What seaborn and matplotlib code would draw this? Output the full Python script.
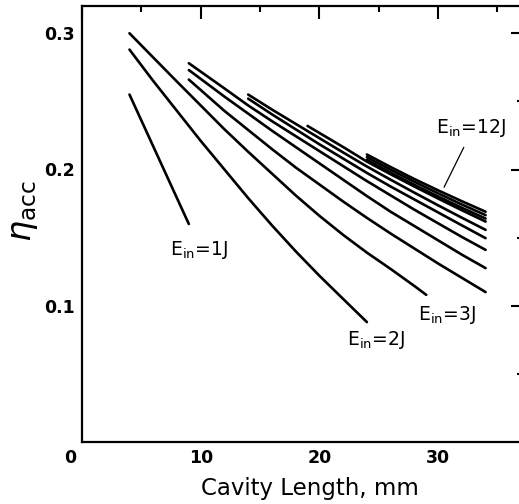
import numpy as np
import pandas as pd
import matplotlib
matplotlib.use("Agg")
import matplotlib.pyplot as plt
import matplotlib.transforms as mtransforms
from matplotlib.ticker import FixedLocator
import seaborn as sns

sns.set_theme(style="white")
plt.rcParams["font.family"] = ["DejaVu Sans"]
plt.rcParams["mathtext.fontset"] = "dejavusans"
plt.rcParams["text.color"] = "black"
plt.rcParams["axes.labelcolor"] = "black"
plt.rcParams["xtick.color"] = "black"
plt.rcParams["ytick.color"] = "black"

# Acceptance efficiency vs cavity length, one curve per input energy
L_1J = [4, 5, 6, 7, 8, 9]
eta_1J = [0.255, 0.236, 0.217, 0.198, 0.179, 0.160]

L_2J = [4, 6, 8, 10, 12, 14, 16, 18, 20, 22, 24]
eta_2J = [0.288, 0.265, 0.243, 0.221, 0.200, 0.179, 0.159, 0.140, 0.122, 0.105, 0.088]

L_3J = [4, 6, 8, 10, 12, 14, 16, 18, 20, 22, 24, 26, 28, 29]
eta_3J = [0.300, 0.2822, 0.2645, 0.247, 0.2295, 0.213, 0.197, 0.181, 0.166,
          0.152, 0.139, 0.127, 0.1145, 0.108]

L_4J = [9, 12, 14, 16, 18, 20, 22, 24, 26, 28, 30, 32, 34]
eta_4J = [0.266, 0.243, 0.229, 0.215, 0.2015, 0.189, 0.1765, 0.1645, 0.153,
          0.142, 0.131, 0.1205, 0.110]

L_5J = [9, 12, 14, 16, 18, 20, 22, 24, 26, 28, 30, 32, 34]
eta_5J = [0.273, 0.2535, 0.241, 0.2285, 0.2165, 0.2045, 0.1925, 0.1805, 0.169,
          0.1585, 0.148, 0.1375, 0.1276]

L_6J = [9, 12, 14, 16, 18, 20, 22, 24, 26, 28, 30, 32, 34]
eta_6J = [0.278, 0.2595, 0.247, 0.2355, 0.2245, 0.2135, 0.2025, 0.1915, 0.181,
          0.1705, 0.1605, 0.1505, 0.141]

L_7J = [14, 16, 18, 20, 22, 24, 26, 28, 30, 32, 34]
eta_7J = [0.252, 0.2405, 0.2295, 0.2185, 0.208, 0.1975, 0.1875, 0.178, 0.1685,
          0.159, 0.1496]

L_8J = [14, 16, 18, 20, 22, 24, 26, 28, 30, 32, 34]
eta_8J = [0.255, 0.244, 0.2335, 0.223, 0.2125, 0.2022, 0.1925, 0.183, 0.1737,
          0.1646, 0.1557]

L_9J = [19, 20, 22, 24, 26, 28, 30, 32, 34]
eta_9J = [0.232, 0.2268, 0.2165, 0.2058, 0.1965, 0.1875, 0.1787, 0.1701, 0.1618]

L_10J = [24, 26, 28, 30, 32, 34]
eta_10J = [0.207, 0.1977, 0.1888, 0.1802, 0.1719, 0.164]

L_11J = [24, 26, 28, 30, 32, 34]
eta_11J = [0.209, 0.1998, 0.191, 0.1825, 0.1743, 0.1665]

L_12J = [24, 26, 28, 30, 32, 34]
eta_12J = [0.211, 0.2018, 0.193, 0.1847, 0.1767, 0.169]

energies = [1, 2, 3, 4, 5, 6, 7, 8, 9, 10, 11, 12]
lengths = [L_1J, L_2J, L_3J, L_4J, L_5J, L_6J, L_7J, L_8J, L_9J, L_10J, L_11J, L_12J]
etas = [eta_1J, eta_2J, eta_3J, eta_4J, eta_5J, eta_6J, eta_7J, eta_8J, eta_9J,
        eta_10J, eta_11J, eta_12J]

x_ticks = [0, 10, 20, 30]
x_ticklabels = ["0", "10", "20", "30"]
y_ticks = [0.1, 0.2, 0.3]
y_ticklabels = ["0.1", "0.2", "0.3"]

df = pd.concat(
    [pd.DataFrame({"length": L, "eta": e, "E_in": E})
     for E, L, e in zip(energies, lengths, etas)],
    ignore_index=True,
)

fig = plt.figure(figsize=(5.19, 5.04), dpi=100)
ax = fig.add_axes([82 / 519, 1 - 442 / 504, (523 - 82) / 519, (442 - 6) / 504])

sns.lineplot(data=df, x="length", y="eta", units="E_in", estimator=None,
             sort=False, color="black", linewidth=1.9, legend=False, ax=ax)

ax.set_xlim(0, 37.15)
ax.set_ylim(0, 0.32)

ax.xaxis.set_major_locator(FixedLocator(x_ticks))
ax.set_xticklabels(x_ticklabels)
ax.xaxis.set_minor_locator(FixedLocator([5, 15, 25, 35]))
ax.yaxis.set_major_locator(FixedLocator(y_ticks))
ax.set_yticklabels(y_ticklabels)
ax.yaxis.set_minor_locator(FixedLocator([0.05, 0.15, 0.25]))

ax.tick_params(which="both", direction="in", top=True, right=True,
               colors="black", width=1.5)
ax.tick_params(which="major", length=9, labelsize=12.5, pad=5)
ax.tick_params(which="minor", length=4.5)
for lab in ax.get_xticklabels() + ax.get_yticklabels():
    lab.set_fontweight("bold")

# the corner "0" sits left of the origin
zero_lab = ax.get_xticklabels()[0]
zero_lab.set_transform(zero_lab.get_transform()
                       + mtransforms.ScaledTranslation(-0.12, 0, fig.dpi_scale_trans))

for sp in ax.spines.values():
    sp.set_color("black")
    sp.set_linewidth(1.6)

ax.set_xlabel("Cavity Length, mm", fontsize=16.5, color="black")
ax.xaxis.set_label_coords(0.517, -0.08)
ax.xaxis.label.set_va("top")
ax.set_ylabel(r"$\eta_{\mathrm{acc}}$", fontsize=24, color="black")
ax.yaxis.set_label_coords(-0.095, 0.53)

lab_kw = dict(fontsize=13.5, ha="center", va="center", color="black")
ax.text(9.86, 0.141, r"E$_{\mathrm{in}}$=1J", **lab_kw)
ax.text(24.8, 0.075, r"E$_{\mathrm{in}}$=2J", **lab_kw)
ax.text(30.7, 0.0934, r"E$_{\mathrm{in}}$=3J", **lab_kw)
ax.annotate(r"E$_{\mathrm{in}}$=12J", xy=(30.5, 0.187), xytext=(32.8, 0.2304),
            fontsize=13.5, ha="center", va="center", color="black",
            arrowprops=dict(arrowstyle="-", color="black", lw=0.9,
                            shrinkA=4, shrinkB=0, relpos=(0.45, 0.0)))

fig.savefig("out.png", dpi=100)
